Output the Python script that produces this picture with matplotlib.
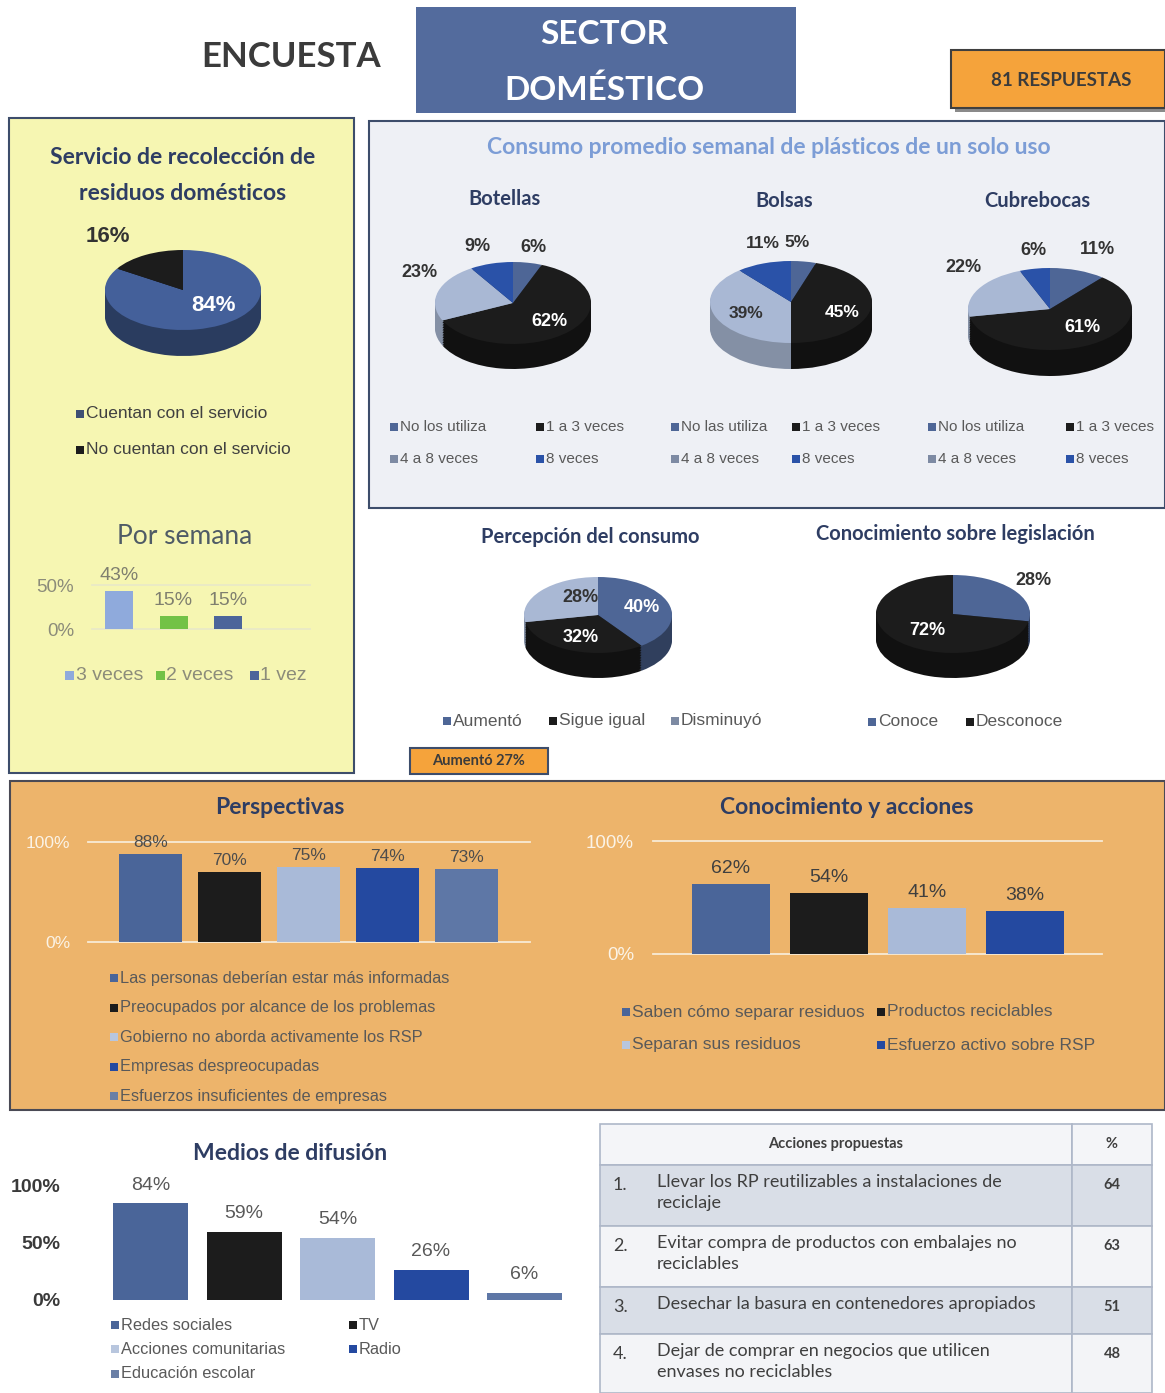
import numpy as np
import matplotlib
matplotlib.use('Agg')
import matplotlib.pyplot as plt
import matplotlib.colors as mcolors
from matplotlib.patches import Rectangle

W, H = 1165, 1393
TITLE_FONT = ['Lato', 'DejaVu Sans']
BODY_FONT = ['Liberation Sans', 'DejaVu Sans']
plt.rcParams['font.family'] = BODY_FONT

NAVY = '#2E3D63'
GRAY_TXT = '#595959'

# --- data ---
servicio_labels = ['Cuentan con el servicio', 'No cuentan con el servicio']
servicio_vals = [84, 16]

semana_labels = ['3 veces', '2 veces', '1 vez']
semana_vals = [43, 15, 15]

frecuencia_labels = ['No los utiliza', '1 a 3 veces', '4 a 8 veces', '8 veces']
frecuencia_labels_bolsas = ['No las utiliza', '1 a 3 veces', '4 a 8 veces', '8 veces']
botellas_vals = [6, 62, 23, 9]
bolsas_vals = [5, 45, 39, 11]
cubrebocas_vals = [11, 61, 22, 6]

percepcion_labels = ['Aumentó', 'Sigue igual', 'Disminuyó']
percepcion_vals = [40, 32, 28]
legislacion_labels = ['Conoce', 'Desconoce']
legislacion_vals = [28, 72]

perspectivas_labels = ['Las personas deberían estar más informadas',
                       'Preocupados por alcance de los problemas',
                       'Gobierno no aborda activamente los RSP',
                       'Empresas despreocupadas',
                       'Esfuerzos insuficientes de empresas']
perspectivas_vals = [88, 70, 75, 74, 73]

acciones_labels = ['Saben cómo separar residuos', 'Productos reciclables',
                   'Separan sus residuos', 'Esfuerzo activo sobre RSP']
acciones_vals = [62, 54, 41, 38]

medios_labels = ['Redes sociales', 'TV', 'Acciones comunitarias', 'Radio',
                 'Educación escolar']
medios_vals = [84, 59, 54, 26, 6]

propuestas = ['Llevar los RP reutilizables a instalaciones de\nreciclaje',
              'Evitar compra de productos con embalajes no\nreciclables',
              'Desechar la basura en contenedores apropiados',
              'Dejar de comprar en negocios que utilicen\nenvases no reciclables']
propuestas_pct = [64, 63, 51, 48]

# colours
SLATE, BLACK, LIGHT, BLUE, SLATE2 = '#4A6599', '#1C1C1C', '#A9BAD8', '#2449A0', '#5E77A6'
pie4_colors = ['#4E6696', BLACK, '#A9B8D4', '#2A52A8']

fig = plt.figure(figsize=(W / 100, H / 100), dpi=100)
bg = fig.add_axes([0, 0, 1, 1])
bg.set_xlim(0, W)
bg.set_ylim(H, 0)
bg.axis('off')


def px_axes(x0, y0, x1, y1):
    return fig.add_axes([x0 / W, 1 - y1 / H, (x1 - x0) / W, (y1 - y0) / H])


def box(x0, y0, x1, y1, fc, ec='none', lw=0, z=1):
    bg.add_patch(Rectangle((x0, y0), x1 - x0, y1 - y0, facecolor=fc,
                           edgecolor=ec, linewidth=lw, zorder=z))


def label(x, y, s, size, color=NAVY, weight='bold', family=TITLE_FONT, ha='center', **kw):
    bg.text(x, y, s, fontsize=size, color=color, fontweight=weight,
            family=family, ha=ha, va='center', zorder=10, **kw)


def legend_item(x, y, color, text, size, tc=GRAY_TXT, ms=8):
    bg.add_patch(Rectangle((x - ms / 2, y - ms / 2), ms, ms, facecolor=color,
                           linewidth=0, zorder=9))
    bg.text(x + ms / 2 + 2, y, text, fontsize=size, color=tc, ha='left',
            va='center', family=BODY_FONT, zorder=10)


def darker(c):
    rgb = np.array(mcolors.to_rgb(c))
    # light slices keep more of their tone on the rim
    f = 0.62 if rgb.mean() < 0.5 else 0.78
    return tuple(rgb * f)


def pie3d(cx, cy, rx, ry, depth, vals, colors, lab_pos, lab_colors, fs):
    ax = px_axes(cx - 2 * rx, cy - 2 * ry, cx + 2 * rx, cy + 2 * ry)
    d = depth / ry
    side = [darker(c) for c in colors]
    for k in np.linspace(d, 0, 16)[:-1]:
        ax.pie(vals, colors=side, startangle=90, counterclock=False,
               center=(0, -k), wedgeprops=dict(linewidth=0))
    ax.pie(vals, colors=colors, startangle=90, counterclock=False,
           wedgeprops=dict(linewidth=0))
    ax.set_aspect('auto')
    ax.set_xlim(-2, 2)
    ax.set_ylim(-2, 2)
    ax.axis('off')
    cum = np.concatenate([[0], np.cumsum(vals)])
    total = cum[-1]
    for i, v in enumerate(vals):
        mid = 90 - 360 * (cum[i] + v / 2) / total
        r, dt = lab_pos[i]
        a = np.deg2rad(mid + dt)
        ax.text(r * np.cos(a), r * np.sin(a), f'{v}%', ha='center', va='center',
                color=lab_colors[i], fontsize=fs, fontweight='bold')
    return ax


def bar_chart(x0, x1, y_top, y_bot, top, vals, colors, step, width, first_c,
              ticks, tick_color, tick_fs, tick_weight, tick_right, lab_fs,
              lab_color, lab_off, grid=None):
    ax = px_axes(x0, y_top, x1, y_bot)
    ax.set_facecolor('none')
    off = (first_c - x0) / step
    ax.set_xlim(-off, -off + (x1 - x0) / step)
    ax.set_ylim(0, top)
    xs = np.arange(len(vals))
    ax.bar(xs, vals, width=width / step, color=colors, zorder=3)
    if grid:
        for t in ticks:
            ax.axhline(t, color=grid, lw=1.3, zorder=1, clip_on=False)
    for x, v in zip(xs, vals):
        ax.annotate(f'{v}%', (x, v), xytext=(0, lab_off), textcoords='offset points',
                    ha='center', va='bottom', fontsize=lab_fs, color=lab_color)
    for s in ax.spines.values():
        s.set_visible(False)
    ax.set_xticks([])
    ax.set_yticks(ticks)
    ax.set_yticklabels([f'{t}%' for t in ticks], color=tick_color,
                       fontsize=tick_fs, fontweight=tick_weight)
    ax.tick_params(axis='y', length=0, pad=(x0 - tick_right) * 0.72)
    return ax


# --- header ---
label(291, 57, 'ENCUESTA', 25, color='#3B3B3B')
box(416, 7, 796, 113, '#536B9D')
label(604, 35, 'SECTOR', 24, color='white')
label(604, 90, 'DOMÉSTICO', 24, color='white')
box(955, 54, 1169, 112, '#8A8A8A', z=1)
box(951, 50, 1165, 108, '#F5A33B', ec='#3F3F3F', lw=1.5, z=2)
label(1061, 80, '81 RESPUESTAS', 13.5, color='#3B3B3B')

# --- panels ---
box(9, 118, 354, 773, '#F6F6B2', ec='#3D4D6B', lw=1.5)
box(369, 121, 1165, 508, '#EEF0F5', ec='#3D4D6B', lw=1.5)
box(10, 781, 1165, 1110, '#EDB46B', ec='#4A4A55', lw=1.5)

# servicio de recolección
label(183, 157, 'Servicio de recolección de', 16.5)
label(183, 194, 'residuos domésticos', 16.5)
pie3d(183, 290, 78, 40, 26, servicio_vals, ['#44609A', BLACK],
      [(0.54, 17), (1.64, 7)], ['white', '#333333'], 16)
legend_item(80, 414, '#3E4F74', servicio_labels[0], 12.5, tc='#404040')
legend_item(80, 450, BLACK, servicio_labels[1], 12.5, tc='#404040')

label(185, 536, 'Por semana', 19, color='#4F5B66', weight='normal')
bar_chart(92, 310, 585, 629, 50, semana_vals, ['#8FAADC', '#72C246', '#4C659A'],
          54.5, 28, 119, [0, 50], '#8C8C7A', 13.5, 'normal', 74, 14, '#7F7F6F', 5,
          grid='#E9E9C6')
for x, c, t in zip([69, 160, 254], ['#8FAADC', '#72C246', '#4C659A'], semana_labels):
    legend_item(x, 675, c, t, 14, tc='#8C8C7A', ms=9)

# consumo semanal
label(769, 148, 'Consumo promedio semanal de plásticos de un solo uso', 16.5, color='#7C9DD6')
label(505, 199, 'Botellas', 14.5)
label(784, 201, 'Bolsas', 14.5)
label(1037, 201, 'Cubrebocas', 14.5)
dark_lab = '#333333'
pie3d(513, 303, 78, 41, 25, botellas_vals, pie4_colors,
      [(1.39, 0), (0.66, -1), (1.41, -16), (1.44, 2)],
      [dark_lab, 'white', dark_lab, dark_lab], 13)
pie3d(791, 302, 81, 41, 26, bolsas_vals, pie4_colors,
      [(1.46, 6), (0.68, -14), (0.62, 6), (1.48, -6)],
      [dark_lab, 'white', dark_lab, dark_lab], 12.5)
pie3d(1050, 309, 82, 41, 26, cubrebocas_vals, pie4_colors,
      [(1.55, -2), (0.61, 10), (1.46, -15), (1.45, -3)],
      [dark_lab, 'white', dark_lab, dark_lab], 13)
for (c1, c2), labs in zip([(394, 540), (675, 796), (932, 1070)],
                          [frecuencia_labels, frecuencia_labels_bolsas, frecuencia_labels]):
    legend_item(c1, 427, pie4_colors[0], labs[0], 11)
    legend_item(c2, 427, pie4_colors[1], labs[1], 11)
    legend_item(c1, 459, '#7D8AA3', labs[2], 11)
    legend_item(c2, 459, pie4_colors[3], labs[3], 11)

# percepción / legislación
label(590, 537, 'Percepción del consumo', 14.5)
label(955, 534, 'Conocimiento sobre legislación', 14.5)
pie3d(598, 615, 74, 38, 25, percepcion_vals, pie4_colors[:3],
      [(0.62, 0), (0.63, 0), (0.51, -22)], ['white', 'white', dark_lab], 13)
pie3d(953, 614, 77, 39, 25, legislacion_vals, pie4_colors[:2],
      [(1.36, 0), (0.54, 13)], [dark_lab, 'white'], 13)
for x, c, t in zip([447, 553, 675], ['#4E6696', BLACK, '#7D8AA3'], percepcion_labels):
    legend_item(x, 721, c, t, 12.5)
for x, c, t in zip([872, 970], ['#4E6696', BLACK], legislacion_labels):
    legend_item(x, 722, c, t, 12.5)
box(410, 748, 548, 774, '#F5A33B', ec='#3D4D6B', lw=1.5)
label(479, 761, 'Aumentó 27%', 10.5, color='#3B3B3B')

# perspectivas
persp_colors = [SLATE, BLACK, LIGHT, BLUE, SLATE2]
label(280, 807, 'Perspectivas', 16.5)
bar_chart(88, 530, 842, 942, 100, perspectivas_vals, persp_colors, 79, 63, 150.5,
          [0, 100], '#FBF3E6', 12.5, 'normal', 70, 12.5, '#4D4D4D', 3,
          grid='#F8EBD6')
for i, (c, t) in enumerate(zip(['#4A6599', BLACK, '#B8C6DE', BLUE, '#6A7FA6'],
                               perspectivas_labels)):
    legend_item(114, 978 + 29.5 * i, c, t, 11.8)

# conocimiento y acciones
label(847, 807, 'Conocimiento y acciones', 16.5)
bar_chart(653, 1102, 841, 954, 100, acciones_vals, persp_colors[:4], 98, 78, 731,
          [0, 100], '#FBF3E6', 13.5, 'normal', 634, 14, '#3F3F3F', 5,
          grid='#F8EBD6')
for (x, y), c, t in zip([(626, 1012), (881, 1012), (626, 1045), (881, 1045)],
                        ['#4A6599', BLACK, '#B8C6DE', BLUE], acciones_labels):
    legend_item(x, y, c, t, 12.5)

# medios de difusión
label(290, 1153, 'Medios de difusión', 16.5)
bar_chart(100, 575, 1185, 1300, 100, medios_vals, persp_colors, 93.5, 75, 150.5,
          [0, 50, 100], '#3A3A3A', 14, 'bold', 60, 14, GRAY_TXT, 7)
for (x, y), c, t in zip([(115, 1325), (353, 1325), (115, 1349), (353, 1349), (115, 1374)],
                        ['#4A6599', BLACK, '#B8C6DE', BLUE, '#6A7FA6'], medios_labels):
    legend_item(x, y, c, t, 11.8)

# tabla de acciones propuestas
tx0, tsplit, tx1 = 600, 1072, 1152
rows = [1124, 1165, 1226, 1287, 1334, 1393]
fills = ['#F4F5F8', '#D9DEE7', '#F3F4F7', '#D9DEE7', '#F3F4F7']
for i, fc in enumerate(fills):
    box(tx0, rows[i], tsplit, rows[i + 1], fc, ec='#AEB7C8', lw=1.2, z=2)
    box(tsplit, rows[i], tx1, rows[i + 1], fc, ec='#AEB7C8', lw=1.2, z=2)
TABLE_FONT = ['Lato', 'DejaVu Sans']
label((tx0 + tsplit) / 2, 1144, 'Acciones propuestas', 10.5, color='#3F3F3F', family=TABLE_FONT)
label((tsplit + tx1) / 2, 1144, '%', 10.5, color='#3F3F3F', family=TABLE_FONT)
for i, (txt, pct) in enumerate(zip(propuestas, propuestas_pct)):
    yc = rows[i + 1] + 20
    label(613, yc, f'{i + 1}.', 13, color='#3F3F3F', weight='normal',
          family=TABLE_FONT, ha='left')
    bg.text(657, yc - 11, txt, fontsize=13, color='#3F3F3F', family=TABLE_FONT,
            ha='left', va='top', linespacing=1.4, zorder=10)
    label((tsplit + tx1) / 2, yc, str(pct), 10.5, color='#3F3F3F', family=TABLE_FONT)

fig.savefig('out.png', dpi=100)
